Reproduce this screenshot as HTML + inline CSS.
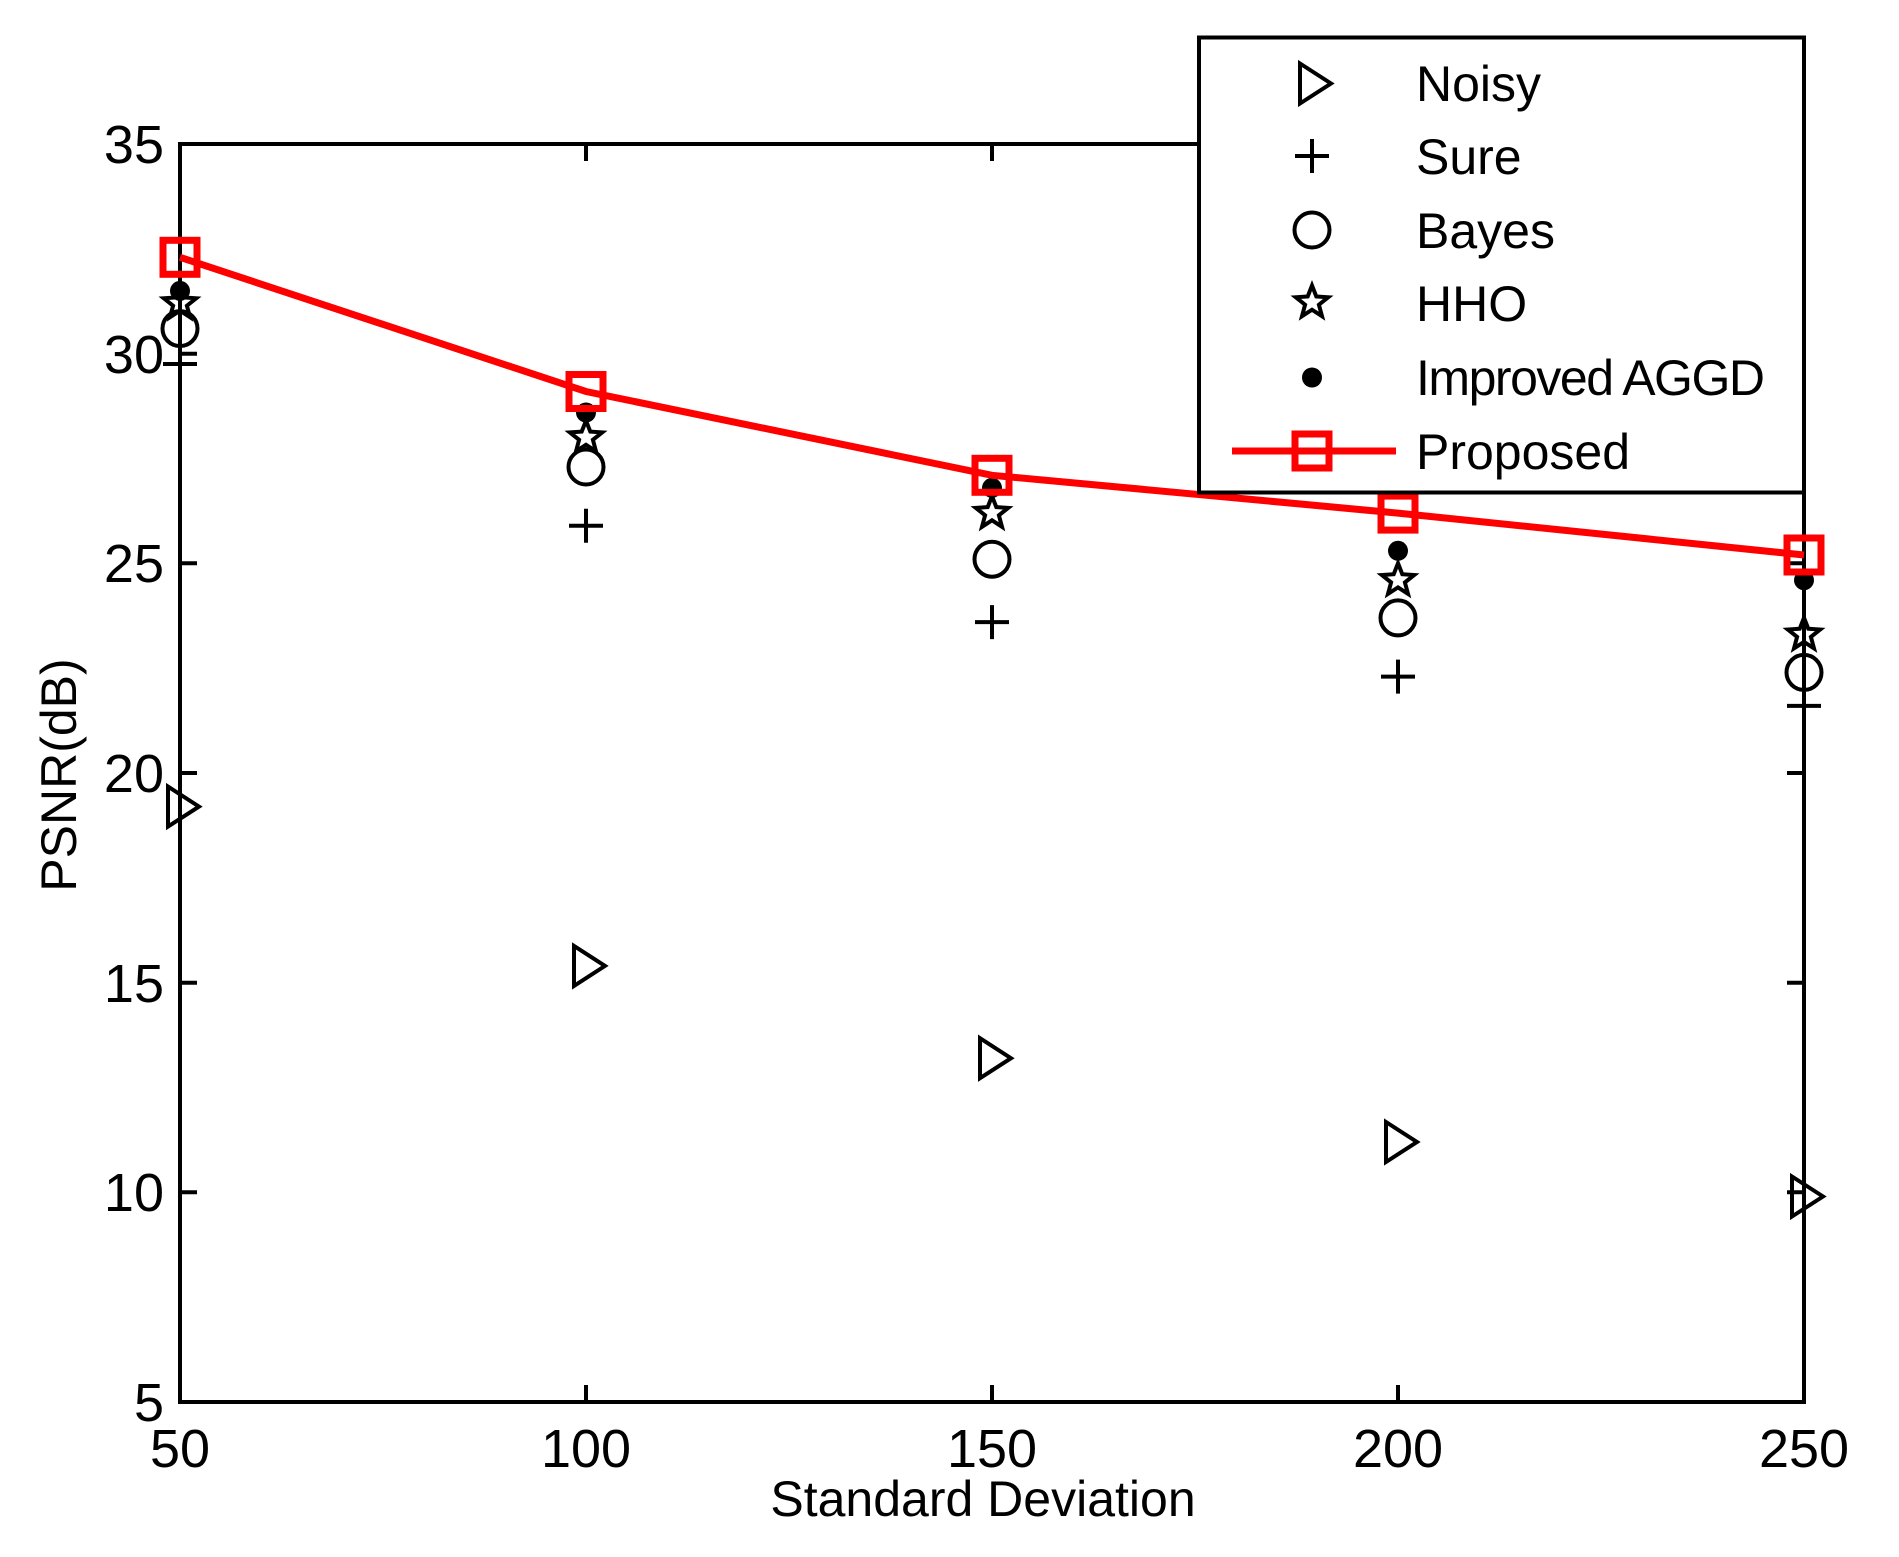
<!DOCTYPE html>
<html><head><meta charset="utf-8"><style>
html,body{margin:0;padding:0;background:#fff}
svg{display:block}
text{font-family:"Liberation Sans",Arial,sans-serif;fill:#000}
</style></head><body>
<svg width="1899" height="1557" viewBox="0 0 1899 1557" xmlns="http://www.w3.org/2000/svg">
<defs>
<path id="tri" d="M-12,-20 L-12,20 L19,0 Z" fill="none" stroke="#000" stroke-width="4" stroke-linejoin="miter"/>
<path id="plus" d="M-17,0 H17 M0,-17 V17" fill="none" stroke="#000" stroke-width="4"/>
<circle id="circ" r="17.5" fill="none" stroke="#000" stroke-width="4"/>
<polygon id="star" points="0,-17 4.3,-6 16.2,-5.2 6.9,2.2 10,13.7 0,7.2 -10,13.7 -6.9,2.2 -16.2,-5.2 -4.3,-6" fill="none" stroke="#000" stroke-width="4" stroke-linejoin="miter"/>
<circle id="dot" r="10" fill="#000"/>
<rect id="sq" x="-17" y="-17" width="34" height="34" fill="none" stroke="#ff0000" stroke-width="7"/>
</defs>

<rect x="180" y="144" width="1624" height="1258" fill="none" stroke="#000" stroke-width="4"/>
<g stroke="#000" stroke-width="4">
<path d="M180,144h17 M180,353.7h17 M180,563.3h17 M180,773h17 M180,982.7h17 M180,1192.3h17 M180,1402h17"/>
<path d="M1804,144h-17 M1804,353.7h-17 M1804,563.3h-17 M1804,773h-17 M1804,982.7h-17 M1804,1192.3h-17 M1804,1402h-17"/>
<path d="M586,1402v-17 M992,1402v-17 M1398,1402v-17 M586,144v17 M992,144v17 M1398,144v17"/>
</g>
<g font-size="54" text-anchor="end">
<text x="164" y="163">35</text>
<text x="164" y="373">30</text>
<text x="164" y="582">25</text>
<text x="164" y="792">20</text>
<text x="164" y="1002">15</text>
<text x="164" y="1211">10</text>
<text x="164" y="1421">5</text>
</g>
<g font-size="54" text-anchor="middle">
<text x="180" y="1467">50</text>
<text x="586" y="1467">100</text>
<text x="992" y="1467">150</text>
<text x="1398" y="1467">200</text>
<text x="1804" y="1467">250</text>
</g>
<text x="983" y="1516" font-size="50" text-anchor="middle">Standard Deviation</text>
<text transform="translate(76,775) rotate(-90)" font-size="50" text-anchor="middle">PSNR(dB)</text>

<g>
<use href="#tri" x="180" y="806.6"/><use href="#tri" x="586" y="965.9"/><use href="#tri" x="992" y="1058.2"/><use href="#tri" x="1398" y="1142"/><use href="#tri" x="1804" y="1196.5"/>
<use href="#plus" x="180" y="364"/><use href="#plus" x="586" y="525.7"/><use href="#plus" x="992" y="622.1"/><use href="#plus" x="1398" y="676.6"/><use href="#plus" x="1804" y="705.9"/>
<use href="#circ" x="180" y="328.6"/><use href="#circ" x="586" y="467"/><use href="#circ" x="992" y="559.2"/><use href="#circ" x="1398" y="617.9"/><use href="#circ" x="1804" y="672.4"/>
<use href="#star" x="180" y="303.5"/><use href="#star" x="586" y="437.6"/><use href="#star" x="992" y="513.1"/><use href="#star" x="1398" y="580.2"/><use href="#star" x="1804" y="634.7"/>
<use href="#dot" x="180" y="290.9"/><use href="#dot" x="586" y="412.5"/><use href="#dot" x="992" y="487.9"/><use href="#dot" x="1398" y="550.8"/><use href="#dot" x="1804" y="580.2"/>
<polyline points="180,257.3 586,391.5 992,475.3 1398,513.1 1804,555" fill="none" stroke="#ff0000" stroke-width="7"/>
<use href="#sq" x="180" y="257.3"/><use href="#sq" x="586" y="391.5"/><use href="#sq" x="992" y="475.3"/><use href="#sq" x="1398" y="513.1"/><use href="#sq" x="1804" y="555"/>
</g>

<rect x="1199" y="37.5" width="605" height="455" fill="#fff" stroke="#000" stroke-width="4"/>
<use href="#tri" x="1312" y="83.5"/>
<use href="#plus" x="1312" y="156"/>
<use href="#circ" x="1312" y="230"/>
<use href="#star" x="1312" y="302.5"/>
<use href="#dot" x="1312" y="377.5"/>
<line x1="1232" y1="451" x2="1396" y2="451" stroke="#ff0000" stroke-width="7"/>
<use href="#sq" x="1312" y="451"/>
<g font-size="50">
<text x="1416" y="101">Noisy</text>
<text x="1416" y="174">Sure</text>
<text x="1416" y="248">Bayes</text>
<text x="1416" y="321">HHO</text>
<text x="1416" y="395" textLength="349">Improved AGGD</text>
<text x="1416" y="469">Proposed</text>
</g>
</svg>
</body></html>
